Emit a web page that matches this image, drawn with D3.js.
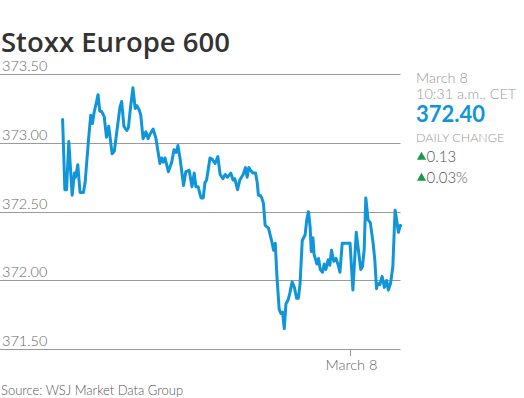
<!DOCTYPE html>
<html>
<head>
<meta charset="utf-8">
<script src="https://cdn.jsdelivr.net/npm/d3@7"></script>
<style>
  html, body { margin: 0; padding: 0; background: #fff; }
  svg { display: block; }
  text { font-family: Lato, "Open Sans", sans-serif; }
</style>
</head>
<body>
<script>
// ---- data ----
// minutes of trading time since the March 7 open (March 7: 0–510, March 8 open at 510)
const minutes = [0,4,7,11,17,21,23,27,31,37,40,46,50,53,56,61,63,66,69,74,78,82,88,92,96,102,105,109,114,117,
  120,125,129,132,136,139,143,148,152,155,161,166,173,176,179,182,188,194,198,202,205,209,215,219,225,230,232,234,237,241,
  246,250,253,256,262,266,271,276,280,285,289,293,299,303,306,311,315,321,325,328,331,336,339,343,346,348,351,354,357,360,
  366,372,375,378,381,385,388,391,394,397,401,404,408,412,416,419,422,426,431,434,437,440,442,445,447,452,455,458,462,465,
  468,472,475,478,482,486,490,493,497,510,511,516,522,530,533,536,539,543,547,552,555,558,560,564,568,572,576,579,583,587,
  591,594,597,600,601];
const values = [373.17,372.66,372.66,373.01,372.62,372.78,372.75,372.84,372.64,372.64,372.71,373.02,373.20,373.14,373.22,373.31,373.35,373.23,373.23,373.19,
  373.04,373.12,372.92,372.94,373.07,373.26,373.30,373.12,373.09,373.11,
  373.23,373.40,373.25,373.27,373.24,373.20,373.03,373.08,373.03,373.06,373.10,373.03,372.85,372.89,372.86,372.89,372.79,372.86,372.95,372.93,
  372.98,372.88,372.69,372.79,372.80,372.68,372.73,372.78,372.68,372.68,
  372.60,372.60,372.71,372.73,372.89,372.88,372.85,372.90,372.77,372.74,372.77,372.75,372.78,372.73,372.74,372.66,372.73,372.77,372.82,372.75,
  372.82,372.79,372.78,372.78,372.71,372.62,372.62,372.60,372.56,372.40,
  372.38,372.28,372.22,372.27,372.03,371.79,371.76,371.77,371.65,371.83,371.86,371.91,371.99,371.95,371.87,371.87,371.97,372.29,372.33,372.44,
  372.50,372.39,372.21,372.31,372.19,372.12,372.16,372.08,372.06,372.12,
  372.08,372.15,372.11,372.22,372.14,372.16,372.11,372.06,372.27,372.27,372.27,371.93,372.35,372.08,372.10,372.22,372.60,372.44,372.42,372.27,
  372.15,371.94,371.98,371.97,372.03,371.95,372.00,371.93,371.98,372.10,
  372.51,372.43,372.35,372.40,372.40];
const yTicks = [371.5, 372.0, 372.5, 373.0, 373.5];
const xTickMinutes = [510];
const xTickLabels = ["March 8"];
const title = "Stoxx Europe 600";
const infoDate = "March 8";
const infoTime = "10:31 a.m., CET";
const lastValue = "372.40";
const changeLabel = "DAILY CHANGE";
const changes = ["0.13", "0.03%"];
const source = "Source: WSJ Market Data Group";

// ---- drawing ----
const W = 524, H = 398;
const svg = d3.select("body").append("svg").attr("width", W).attr("height", H);

const x = d3.scaleLinear().domain([0, 601]).range([62.6, 400.7]);
const y = d3.scaleLinear().domain([371.5, 373.5]).range([349.3, 74]);

svg.append("text").attr("x", 1).attr("y", 51.5)
  .attr("font-size", 27.5).attr("font-weight", 600).attr("fill", "#333")
  .style("font-family", "'Open Sans', Lato, sans-serif")
  .text(title);

// grid
const grid = svg.append("g");
grid.selectAll("line").data(yTicks).join("line")
  .attr("x1", 0).attr("x2", 400.5)
  .attr("y1", d => Math.round(y(d)) + 0.5).attr("y2", d => Math.round(y(d)) + 0.5)
  .attr("stroke", "#9a9a9a").attr("stroke-width", 1);
grid.selectAll("text").data(yTicks).join("text")
  .attr("x", 2).attr("y", d => y(d) - 3)
  .attr("font-size", 14.5).attr("font-weight", 300).attr("fill", "#666")
  .text(d => d3.format(".2f")(d));

// x axis tick
const xt = svg.append("g");
xt.selectAll("line").data(xTickMinutes).join("line")
  .attr("x1", d => Math.round(x(d)) + 0.5).attr("x2", d => Math.round(x(d)) + 0.5)
  .attr("y1", y(371.5)).attr("y2", y(371.5) + 7)
  .attr("stroke", "#9a9a9a");
xt.selectAll("text").data(xTickMinutes).join("text")
  .attr("x", d => x(d) + 2).attr("y", 370).attr("text-anchor", "middle")
  .attr("font-size", 14.5).attr("font-weight", 300).attr("fill", "#666")
  .text((d, i) => xTickLabels[i]);

// line
const pts = minutes.map((m, i) => [m, values[i]]);
svg.append("path").datum(pts)
  .attr("fill", "none").attr("stroke", "#1095da").attr("stroke-width", 3)
  .attr("stroke-linejoin", "round").attr("stroke-linecap", "round")
  .attr("d", d3.line().x(d => x(d[0])).y(d => y(d[1])));

// info panel
const ix = 416;
svg.append("text").attr("x", ix).attr("y", 83).attr("font-size", 14.5).attr("font-weight", 300).attr("fill", "#999").text(infoDate);
svg.append("text").attr("x", ix).attr("y", 98.5).attr("font-size", 14.5).attr("font-weight", 300).attr("fill", "#999").text(infoTime);
svg.append("text").attr("x", ix).attr("y", 122).attr("font-size", 22).attr("font-weight", 700).attr("fill", "#1095da").text(lastValue);
svg.append("text").attr("x", ix).attr("y", 142).attr("font-size", 12.5).attr("font-weight", 300).attr("fill", "#999").text(changeLabel);
const ch = svg.append("g");
changes.forEach((c, i) => {
  const by = 162 + i * 21;
  ch.append("path").attr("d", d3.symbol(d3.symbolTriangle, 36)())
    .attr("transform", `translate(${ix + 5.5},${by - 5})`).attr("fill", "#1a9a48");
  ch.append("text").attr("x", ix + 10.5).attr("y", by).attr("font-size", 15).attr("font-weight", 300).attr("fill", "#555").text(c);
});

svg.append("text").attr("x", 1).attr("y", 395).attr("font-size", 13).attr("font-weight", 300).attr("fill", "#555").text(source);
</script>
</body>
</html>
